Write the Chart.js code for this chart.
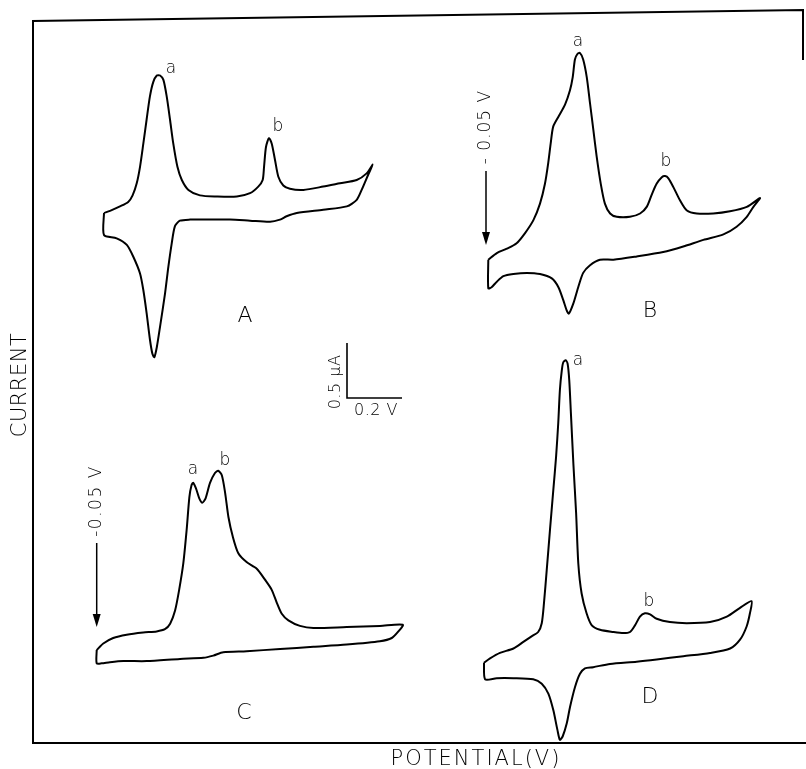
<!DOCTYPE html>
<html>
<head>
<meta charset="utf-8">
<script src="https://cdn.jsdelivr.net/npm/chart.js@4.4.1/dist/chart.umd.min.js"></script>
<style>
  html, body { margin: 0; padding: 0; background: #fff; }
  canvas { display: block; }
</style>
</head>
<body>
<canvas id="cv" width="806" height="769"></canvas>
<script>
// Cyclic voltammograms A-D. Potential in V measured from the start of each
// scan, current in uA measured from the starting current. Forward sweep first,
// then the reverse sweep back to the start.
const potentialA = [0, 0.022, 0.058, 0.088, 0.104, 0.119, 0.131, 0.143, 0.155, 0.167, 0.179, 0.192, 0.204, 0.216, 0.228, 0.240, 0.252, 0.267, 0.283, 0.307, 0.349, 0.410, 0.483, 0.531, 0.561, 0.577, 0.582, 0.589, 0.600, 0.610, 0.622, 0.634, 0.652, 0.676, 0.725, 0.797, 0.858, 0.919, 0.955, 0.977,
  0.961, 0.937, 0.919, 0.883, 0.797, 0.701, 0.664, 0.640, 0.604, 0.531, 0.458, 0.373, 0.313, 0.276, 0.258, 0.246, 0.234, 0.222, 0.204, 0.192, 0.183, 0.176, 0.167, 0.155, 0.143, 0.131, 0.107, 0.083, 0.046, 0, 0];
const currentA = [0.20, 0.22, 0.26, 0.30, 0.36, 0.47, 0.62, 0.83, 1.05, 1.26, 1.39, 1.45, 1.45, 1.41, 1.26, 1.05, 0.83, 0.62, 0.50, 0.41, 0.36, 0.35, 0.35, 0.38, 0.44, 0.50, 0.62, 0.80, 0.88, 0.83, 0.68, 0.53, 0.45, 0.42, 0.41, 0.44, 0.47, 0.50, 0.56, 0.64,
  0.55, 0.41, 0.32, 0.26, 0.23, 0.20, 0.17, 0.14, 0.12, 0.13, 0.14, 0.14, 0.14, 0.13, 0.08, -0.08, -0.29, -0.53, -0.83, -1.02, -1.11, -1.08, -0.95, -0.71, -0.50, -0.35, -0.20, -0.09, -0.03, 0, 0.20];

const potentialB = [0, 0.031, 0.067, 0.103, 0.133, 0.164, 0.188, 0.206, 0.218, 0.227, 0.236, 0.255, 0.279, 0.297, 0.307, 0.315, 0.324, 0.333, 0.345, 0.358, 0.370, 0.382, 0.394, 0.409, 0.424, 0.443, 0.467, 0.515, 0.552, 0.576, 0.594, 0.612, 0.631, 0.643, 0.655, 0.673, 0.697, 0.721, 0.758, 0.818, 0.879, 0.940, 0.988,
  0.964, 0.940, 0.903, 0.855, 0.782, 0.709, 0.636, 0.540, 0.455, 0.406, 0.370, 0.345, 0.327, 0.309, 0.293, 0.285, 0.273, 0.255, 0.231, 0.188, 0.140, 0.091, 0.055, 0.031, 0.012, 0, 0];
const currentB = [0.26, 0.32, 0.36, 0.41, 0.50, 0.62, 0.77, 0.95, 1.14, 1.32, 1.47, 1.56, 1.67, 1.80, 1.92, 2.08, 2.13, 2.14, 2.08, 1.92, 1.68, 1.44, 1.20, 0.95, 0.77, 0.68, 0.65, 0.65, 0.68, 0.74, 0.85, 0.95, 1.01, 1.02, 1.00, 0.92, 0.80, 0.71, 0.68, 0.68, 0.70, 0.74, 0.82,
  0.74, 0.65, 0.56, 0.49, 0.44, 0.38, 0.33, 0.29, 0.26, 0.26, 0.21, 0.14, 0.01, -0.14, -0.23, -0.20, -0.11, 0.01, 0.09, 0.13, 0.14, 0.13, 0.11, 0.06, 0.01, 0, 0.26];

const potentialC = [0, 0.024, 0.060, 0.109, 0.169, 0.218, 0.248, 0.267, 0.285, 0.300, 0.315, 0.327, 0.337, 0.345, 0.351, 0.361, 0.373, 0.384, 0.396, 0.412, 0.430, 0.442, 0.455, 0.467, 0.479, 0.495, 0.515, 0.545, 0.582, 0.612, 0.636, 0.655, 0.673, 0.697, 0.739, 0.788, 0.909, 1.030, 1.113,
  1.097, 1.073, 1.030, 0.909, 0.788, 0.667, 0.545, 0.460, 0.424, 0.388, 0.303, 0.182, 0.097, 0.048, 0.018, 0, 0];
const currentC = [0.12, 0.18, 0.23, 0.26, 0.28, 0.29, 0.31, 0.36, 0.48, 0.67, 0.91, 1.21, 1.51, 1.62, 1.64, 1.59, 1.50, 1.46, 1.50, 1.64, 1.73, 1.75, 1.71, 1.55, 1.33, 1.15, 1.00, 0.92, 0.86, 0.76, 0.67, 0.55, 0.45, 0.39, 0.34, 0.32, 0.33, 0.34, 0.35,
  0.29, 0.23, 0.20, 0.17, 0.15, 0.13, 0.11, 0.10, 0.07, 0.05, 0.04, 0.02, 0.02, 0.01, 0, 0, 0.12];

const potentialD = [0, 0.022, 0.058, 0.107, 0.143, 0.173, 0.197, 0.210, 0.218, 0.228, 0.240, 0.252, 0.262, 0.270, 0.276, 0.283, 0.288, 0.297, 0.304, 0.310, 0.316, 0.325, 0.335, 0.343, 0.355, 0.373, 0.392, 0.422, 0.470, 0.507, 0.531, 0.549, 0.567, 0.585, 0.604, 0.628, 0.676, 0.737, 0.822, 0.883, 0.931, 0.973,
  0.967, 0.955, 0.931, 0.895, 0.822, 0.725, 0.628, 0.555, 0.458, 0.397, 0.367, 0.349, 0.331, 0.313, 0.301, 0.286, 0.276, 0.267, 0.252, 0.234, 0.210, 0.179, 0.107, 0.046, 0.004, 0];
const currentD = [0.15, 0.19, 0.24, 0.28, 0.34, 0.39, 0.43, 0.51, 0.69, 0.99, 1.36, 1.72, 2.02, 2.33, 2.63, 2.81, 2.88, 2.90, 2.87, 2.72, 2.42, 1.96, 1.51, 1.05, 0.78, 0.60, 0.49, 0.45, 0.43, 0.42, 0.43, 0.49, 0.57, 0.60, 0.59, 0.55, 0.52, 0.51, 0.52, 0.57, 0.65, 0.71,
  0.60, 0.48, 0.36, 0.28, 0.24, 0.21, 0.18, 0.16, 0.14, 0.11, 0.10, 0.05, -0.07, -0.25, -0.40, -0.52, -0.55, -0.46, -0.28, -0.13, -0.04, 0, 0.01, 0.01, 0, 0.15];

// scale bar: 0.5 uA up, 0.2 V across
const scaleBarPotential = [0, 0, 0.2];
const scaleBarCurrent = [0.5, 0, 0];

// drawing scale of the figure
const PX_PER_V = 275;
const PX_PER_UA = 110;
const W = 806, H = 769;

// canvas position of each scan's starting point (and of the scale bar corner)
const traces = [
  { pot: potentialA, cur: currentA, at: [104, 235] },
  { pot: potentialB, cur: currentB, at: [488.3, 288.3] },
  { pot: potentialC, cur: currentC, at: [96.7, 663.3] },
  { pot: potentialD, cur: currentD, at: [484, 679.3] },
  { pot: scaleBarPotential, cur: scaleBarCurrent, at: [347, 398], bar: true }
];

function toPoints(pot, cur, at) {
  const x0 = at[0] / PX_PER_V;
  const y0 = (H - at[1]) / PX_PER_UA;
  return pot.map((v, i) => ({ x: x0 + v, y: y0 + cur[i] }));
}

const datasets = traces.map(t => ({
  data: toPoints(t.pot, t.cur, t.at),
  showLine: true,
  borderColor: '#000',
  borderWidth: t.bar ? 1.6 : 2,
  pointRadius: 0,
  tension: t.bar ? 0 : 0.25,
  fill: false
}));

const FONT = '"DejaVu Sans", "Liberation Sans", sans-serif';
const INK = '#000';

// text labels: [text, x, y, size, rotated, letter spacing]
const labels = [
  ['a', 171, 69, 17], ['b', 278, 127, 17], ['A', 245, 316, 22],
  ['a', 578, 42, 17], ['b', 666, 162, 17], ['B', 650, 311, 22],
  ['a', 193, 470, 17], ['b', 225, 461, 17], ['C', 244, 713, 22],
  ['a', 578, 361, 17], ['b', 649, 602, 17], ['D', 650, 697, 22],
  ['- 0.05 V', 486, 127, 17, true, 1],
  ['-0.05 V', 97, 501, 17, true, 1.5],
  ['0.5 µA', 336, 382, 16, true, 0.5],
  ['0.2 V', 376, 411, 16, false, 0.5],
  ['CURRENT', 21, 385, 21, true, 0.5],
  ['POTENTIAL(V)', 476, 760, 21, false, 2]
];

// starting-potential arrows: [x, top, tip]
const arrows = [[486, 171, 245], [96.7, 543, 627]];

const figurePlugin = {
  id: 'figure',
  afterDraw(chart) {
    const ctx = chart.ctx;
    ctx.save();
    ctx.strokeStyle = INK;
    ctx.fillStyle = INK;
    ctx.lineWidth = 2;

    // frame
    ctx.beginPath();
    ctx.moveTo(806, 743);
    ctx.lineTo(33, 743);
    ctx.lineTo(33, 21);
    ctx.lineTo(803, 10);
    ctx.lineTo(803, 60);
    ctx.stroke();

    // arrows
    ctx.lineWidth = 1.5;
    arrows.forEach(([x, top, tip]) => {
      ctx.beginPath();
      ctx.moveTo(x, top);
      ctx.lineTo(x, tip - 10);
      ctx.stroke();
      ctx.beginPath();
      ctx.moveTo(x - 4, tip - 13);
      ctx.lineTo(x + 4, tip - 13);
      ctx.lineTo(x, tip);
      ctx.closePath();
      ctx.fill();
    });

    ctx.textAlign = 'center';
    ctx.textBaseline = 'middle';
    labels.forEach(([txt, x, y, size, rot, spacing]) => {
      ctx.font = '200 ' + size + 'px ' + FONT;
      ctx.letterSpacing = (spacing || 0) + 'px';
      ctx.save();
      ctx.translate(x, y);
      if (rot) ctx.rotate(-Math.PI / 2);
      ctx.fillText(txt, 0, 0);
      ctx.restore();
    });
    ctx.restore();
  }
};

new Chart(document.getElementById('cv'), {
  type: 'scatter',
  data: { datasets: datasets },
  options: {
    responsive: false,
    animation: false,
    devicePixelRatio: 1,
    layout: { padding: 0 },
    plugins: { legend: { display: false }, tooltip: { enabled: false } },
    scales: {
      x: { type: 'linear', display: false, min: 0, max: W / PX_PER_V },
      y: { type: 'linear', display: false, min: 0, max: H / PX_PER_UA }
    }
  },
  plugins: [figurePlugin]
});
</script>
</body>
</html>
